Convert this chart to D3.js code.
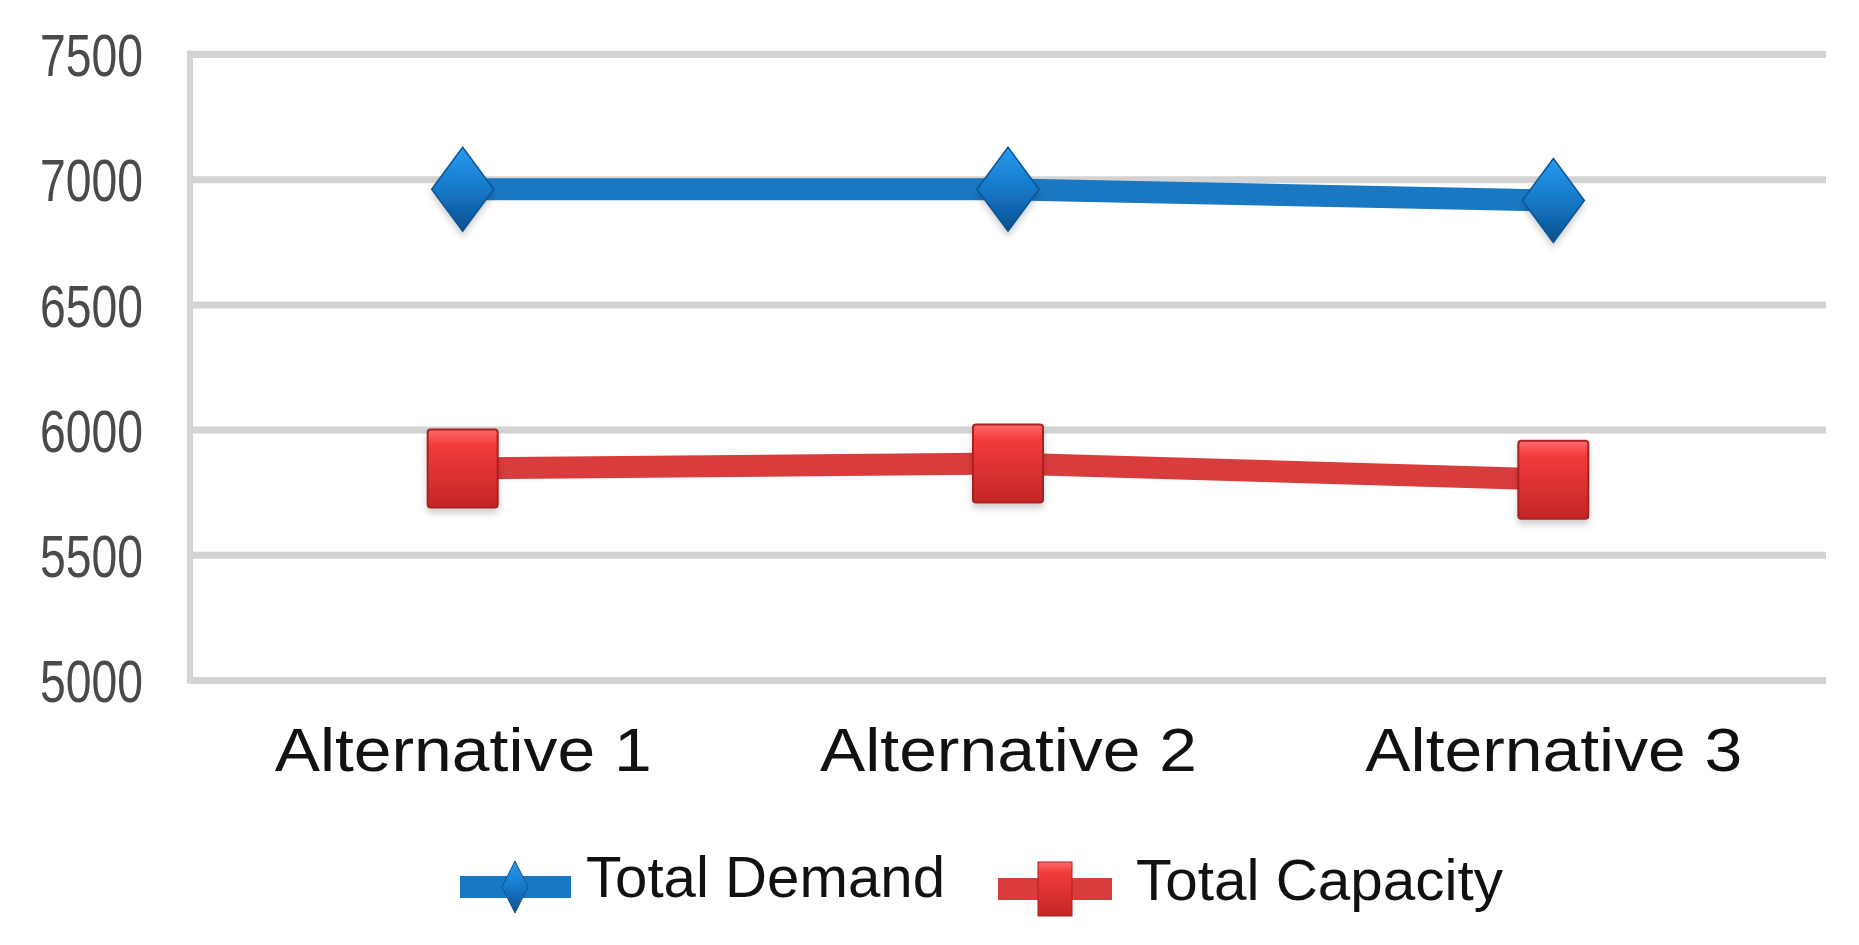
<!DOCTYPE html>
<html>
<head>
<meta charset="utf-8">
<script src="https://cdn.jsdelivr.net/npm/d3@7"></script>
<style>
  html, body { margin: 0; padding: 0; background: #ffffff; }
  svg { display: block; }
</style>
</head>
<body>
<svg id="chart" width="1859" height="945"></svg>
<script>
const categories = ["Alternative 1", "Alternative 2", "Alternative 3"];
const totalDemand = [6960, 6960, 6915];
const totalCapacity = [5845, 5865, 5800];
const yTickValues = [5000, 5500, 6000, 6500, 7000, 7500];
const seriesNames = ["Total Demand", "Total Capacity"];

(function () {
const svg = d3.select("#chart");
const plotLeft = 190, plotRight = 1826, plotTop = 54, plotBottom = 680;
const FONT = "'Liberation Sans', Arial, sans-serif";

const x = d3.scalePoint().domain(categories).range([plotLeft, plotRight]).padding(0.5);
const y = d3.scaleLinear().domain([5000, 7500]).range([plotBottom, plotTop]);

const defs = svg.append("defs");
const gBlue = defs.append("linearGradient").attr("id", "gBlue").attr("x1", 0).attr("y1", 0).attr("x2", 0).attr("y2", 1);
gBlue.append("stop").attr("offset", "0%").attr("stop-color", "#2a9af0");
gBlue.append("stop").attr("offset", "50%").attr("stop-color", "#1579c8");
gBlue.append("stop").attr("offset", "100%").attr("stop-color", "#0b4f8c");
const gRed = defs.append("linearGradient").attr("id", "gRed").attr("x1", 0).attr("y1", 0).attr("x2", 0).attr("y2", 1);
gRed.append("stop").attr("offset", "0%").attr("stop-color", "#ff6a6a");
gRed.append("stop").attr("offset", "20%").attr("stop-color", "#f23b3b");
gRed.append("stop").attr("offset", "100%").attr("stop-color", "#c42626");
const shadow = defs.append("filter").attr("id", "shadow").attr("x", "-30%").attr("y", "-30%").attr("width", "160%").attr("height", "170%");
shadow.append("feDropShadow").attr("dx", 0).attr("dy", 5).attr("stdDeviation", 3).attr("flood-color", "#000").attr("flood-opacity", 0.18);

// Grid lines + y tick labels
const yAxis = d3.axisLeft(y).tickValues(yTickValues).tickSize(-(plotRight - plotLeft)).tickPadding(0).tickFormat(d3.format("d"));
const gy = svg.append("g").attr("transform", `translate(${plotLeft},0)`).call(yAxis);
gy.select(".domain").remove();
gy.selectAll(".tick line").attr("stroke", "#d3d3d3").attr("stroke-width", 7);
gy.selectAll(".tick text")
  .attr("x", 143 - plotLeft)
  .attr("dy", "0.36em")
  .attr("fill", "#4a4a4a")
  .attr("font-family", FONT)
  .attr("font-size", 60)
  .attr("text-anchor", "end")
  .attr("textLength", 103)
  .attr("lengthAdjust", "spacingAndGlyphs");

// y-axis vertical line
svg.append("line").attr("x1", plotLeft).attr("x2", plotLeft).attr("y1", y(7500) - 3.5).attr("y2", y(5000) + 3.5)
  .attr("stroke", "#d3d3d3").attr("stroke-width", 6);

// x axis labels
const xAxis = d3.axisBottom(x).tickSize(0).tickPadding(0);
const gx = svg.append("g").attr("transform", `translate(0,${plotBottom})`).call(xAxis);
gx.select(".domain").remove();
gx.selectAll(".tick text")
  .attr("y", 91)
  .attr("dy", 0)
  .attr("fill", "#111")
  .attr("font-family", FONT)
  .attr("font-size", 62)
  .attr("text-anchor", "middle")
  .attr("textLength", 377)
  .attr("lengthAdjust", "spacingAndGlyphs");

// lines
const line = d3.line().x((d, i) => x(categories[i])).y(d => y(d));
svg.append("path").datum(totalDemand).attr("d", line).attr("fill", "none")
  .attr("stroke", "#1a77c1").attr("stroke-width", 22);
svg.append("path").datum(totalCapacity).attr("d", line).attr("fill", "none")
  .attr("stroke", "#d83c3c").attr("stroke-width", 22);

// markers
const diamond = (hw, hh) => `M0,${-hh}L${hw},0L0,${hh}L${-hw},0Z`;
svg.append("g").selectAll("path").data(totalDemand).join("path")
  .attr("transform", (d, i) => `translate(${x(categories[i])},${y(d)})`)
  .attr("d", diamond(31, 42))
  .attr("fill", "url(#gBlue)").attr("stroke", "#0d5494").attr("stroke-width", 1.5)
  .attr("filter", "url(#shadow)");
svg.append("g").selectAll("rect").data(totalCapacity).join("rect")
  .attr("x", (d, i) => x(categories[i]) - 35)
  .attr("y", d => y(d) - 39)
  .attr("width", 70).attr("height", 78)
  .attr("rx", 3)
  .attr("fill", "url(#gRed)").attr("stroke", "#a82020").attr("stroke-width", 2)
  .attr("filter", "url(#shadow)");

// legend
const leg = svg.append("g");
leg.append("line").attr("x1", 460).attr("x2", 571).attr("y1", 887).attr("y2", 887)
  .attr("stroke", "#1a77c1").attr("stroke-width", 22);
leg.append("path").attr("transform", "translate(515,887)").attr("d", diamond(13, 26))
  .attr("fill", "url(#gBlue)").attr("stroke", "#0d5494").attr("stroke-width", 1);
leg.append("text").attr("x", 586).attr("y", 897).text(seriesNames[0])
  .attr("font-family", FONT).attr("font-size", 57).attr("fill", "#111")
  .attr("textLength", 359).attr("lengthAdjust", "spacingAndGlyphs");
leg.append("line").attr("x1", 998).attr("x2", 1112).attr("y1", 889).attr("y2", 889)
  .attr("stroke", "#d83c3c").attr("stroke-width", 22);
leg.append("rect").attr("x", 1055 - 17).attr("y", 889 - 27).attr("width", 34).attr("height", 54)
  .attr("fill", "url(#gRed)").attr("stroke", "#a82020").attr("stroke-width", 1);
leg.append("text").attr("x", 1136).attr("y", 900).text(seriesNames[1])
  .attr("font-family", FONT).attr("font-size", 57).attr("fill", "#111")
  .attr("textLength", 367).attr("lengthAdjust", "spacingAndGlyphs");
})();
</script>
</body>
</html>
